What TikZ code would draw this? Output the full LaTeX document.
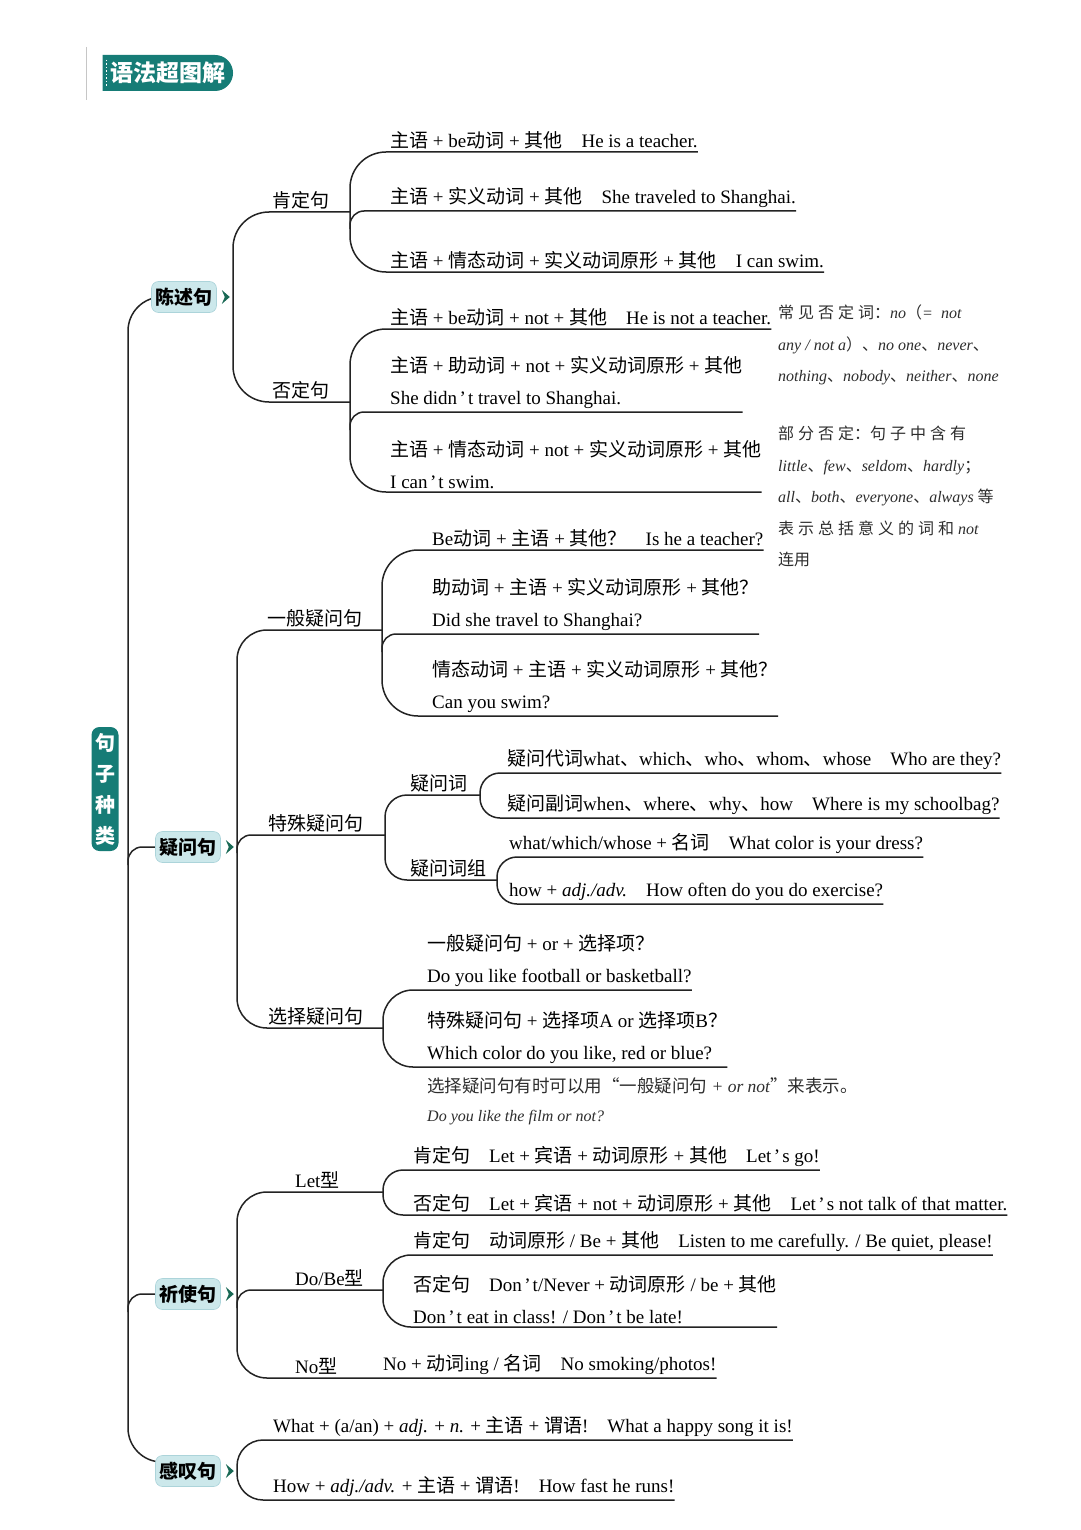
\documentclass[tikz,border=0pt]{standalone}
\usepackage{fontspec}
\setmainfont{Liberation Serif}
\newfontfamily\zhfamily{Noto Sans CJK SC}
\usepackage{xcolor}
\usepackage{tikz}
\usetikzlibrary{positioning, calc, shapes.misc, backgrounds}
% CJK characters switch to the CJK family by themselves
\XeTeXinterchartokenstate=1
\newXeTeXintercharclass\zhclass
\newcount\zhc
\zhc="4E00
\loop \XeTeXcharclass\zhc=\zhclass \advance\zhc by 1 \ifnum\zhc<"A000 \repeat
\zhc="3000
\loop \XeTeXcharclass\zhc=\zhclass \advance\zhc by 1 \ifnum\zhc<"3040 \repeat
\zhc="FF00
\loop \XeTeXcharclass\zhc=\zhclass \advance\zhc by 1 \ifnum\zhc<"FFF0 \repeat
\XeTeXcharclass"201C=\zhclass
\XeTeXcharclass"201D=\zhclass
\XeTeXinterchartoks 0 \zhclass = {\zhfamily}
\XeTeXinterchartoks 4095 \zhclass = {\zhfamily}
\XeTeXinterchartoks \zhclass 0 = {\rmfamily}
\XeTeXinterchartoks \zhclass 4095 = {\rmfamily}
\newcommand\ap{\kern2.5pt’\kern2pt}
\definecolor{tealdk}{RGB}{22,124,118}
\definecolor{catfill}{RGB}{204,232,235}
\definecolor{catline}{RGB}{172,212,218}
\definecolor{chevc}{RGB}{24,104,84}
\definecolor{inkline}{RGB}{35,35,35}
\definecolor{notegray}{RGB}{45,45,45}
\tikzset{
  tree/.style={draw=inkline, line width=1.5pt},
  leaf/.style={anchor=south west, inner xsep=0pt, inner ysep=3pt,
    align=left, font=\fontsize{19}{32}\selectfont},
  sub/.style={anchor=south west, inner xsep=0pt, inner ysep=3pt,
    font=\fontsize{19}{19}\selectfont},
  cat/.style={rectangle, rounded corners=7pt, fill=catfill, draw=catline,
    line width=0.6pt, inner xsep=4pt, minimum height=31pt,
    font=\fontsize{19}{19}\selectfont\bfseries},
  root/.style={rectangle, rounded corners=8pt, fill=tealdk, text=white,
    align=center, inner xsep=3pt, inner ysep=6pt, minimum width=27pt,
    font=\fontsize{20}{31}\selectfont\bfseries},
  title/.style={rounded rectangle, rounded rectangle left arc=none,
    fill=tealdk, text=white, minimum width=137pt, minimum height=36pt,
    font=\fontsize{23}{23}\selectfont\bfseries},
  note/.style={anchor=north west, align=left, inner sep=0pt, text=notegray,
    font=\fontsize{16}{31.5}\selectfont\itshape},
  notex/.style={anchor=west, inner sep=0pt, text=notegray,
    font=\fontsize{17.5}{17.5}\selectfont\itshape}
}
\newcommand\chev[1]{\fill[chevc] ($(#1.east)+(5,-7)$) -- ++(8,7) -- ++(-8,7) -- ++(3,-7) -- cycle;}

\begin{document}
\begin{tikzpicture}[x=1pt, y=-1pt]
  \useasboundingbox (0,0) rectangle (1080,1530);

  % title and root
  \draw[gray!45, line width=1pt] (86,47) -- (86,100);
  \node[title] (ttl) at (166,73) {\hspace{4pt}语法超图解};
  \draw[white, line width=1.3pt, dash pattern=on 1.5pt off 2pt] ($(ttl.west)+(4,-13)$) -- ($(ttl.west)+(4,13)$);
  \node[root] (gz) at (105,789) {句\\子\\种\\类};

  % main sentence types
  \node[cat] (cs) at (184,297) {陈述句};
  \node[cat] (yw) at (188,847) {疑问句};
  \node[cat] (qs) at (188,1294) {祈使句};
  \node[cat] (gt) at (188,1471) {感叹句};
  \chev{cs} \chev{yw} \chev{qs} \chev{gt}

  \coordinate (trk) at (128,0);
  \coordinate (csv) at (233,0);
  \coordinate (kdv) at (350,0);
  \coordinate (fdv) at (350,0);
  \coordinate (ywv) at (237,0);
  \coordinate (ybv) at (382,0);
  \coordinate (tsv) at (385,0);
  \coordinate (w1v) at (480,0);
  \coordinate (w2v) at (497,0);
  \coordinate (xzv) at (383,0);
  \coordinate (qsv) at (237,0);
  \coordinate (ltv) at (383,0);
  \coordinate (dbv) at (383,0);
  \coordinate (gtv) at (237,0);

  % 陈述句
  \node[sub] (kd) at (272,212) {肯定句};
  \node[sub] (fd) at (272,402) {否定句};
  \node[leaf] (k1) at (390,152) {主语 + be动词 + 其他\quad He is a teacher.};
  \node[leaf] (k2) at (390,211) {主语 + 实义动词 + 其他\quad She traveled to Shanghai.};
  \node[leaf] (k3) at (390,272) {主语 + 情态动词 + 实义动词原形 + 其他\quad I can swim.};
  \node[leaf] (f1) at (390,329) {主语 + be动词 + not + 其他\quad He is not a teacher.};
  \node[leaf] (f2) at (390,412) {主语 + 助动词 + not + 实义动词原形 + 其他\\She didn\ap t travel to Shanghai.};
  \node[leaf] (f3) at (390,492) {主语 + 情态动词 + not + 实义动词原形 + 其他\\I can\ap t swim.};
  \node[note] (nt1) at (778,305) {常 见 否 定 词：no（= \ not\\any / not a）、no one、never、\\nothing、nobody、neither、none};
  \node[note] (nt2) at (778,426) {部 分 否 定：句 子 中 含 有\\little、few、seldom、hardly；\\all、both、everyone、always 等\\表 示 总 括 意 义 的 词 和 not\\连用};

  % 疑问句
  \node[sub] (yb) at (267,630) {一般疑问句};
  \node[sub] (ts) at (268,835) {特殊疑问句};
  \node[sub] (xz) at (268,1028) {选择疑问句};
  \node[leaf] (y1) at (432,550) {Be动词 + 主语 + 其他？\quad Is he a teacher?};
  \node[leaf] (y2) at (432,634) {助动词 + 主语 + 实义动词原形 + 其他？\\Did she travel to Shanghai?};
  \node[leaf] (y3) at (432,716) {情态动词 + 主语 + 实义动词原形 + 其他？\\Can you swim?};
  \node[sub] (w1) at (410,795) {疑问词};
  \node[sub] (w2) at (410,880) {疑问词组};
  \node[leaf] (w11) at (507,773) {疑问代词what、which、who、whom、whose\quad Who are they?};
  \node[leaf] (w12) at (507,818) {疑问副词when、where、why、how\quad Where is my schoolbag?};
  \node[leaf] (w21) at (509,857) {what/which/whose + 名词\quad What color is your dress?};
  \node[leaf] (w22) at (509,904) {how + \textit{adj./adv.}\quad How often do you do exercise?};
  \node[leaf] (x1) at (427,990) {一般疑问句 + or + 选择项？\\Do you like football or basketball?};
  \node[leaf] (x2) at (427,1067) {特殊疑问句 + 选择项A or 选择项B？\\Which color do you like, red or blue?};
  \node[notex] (nt3) at (427,1086) {选择疑问句有时可以用“一般疑问句 + or not”来表示。};
  \node[notex, font=\fontsize{16}{16}\selectfont\itshape] (nt4) at (427,1118) {Do you like the film or not?};

  % 祈使句
  \node[sub] (lt) at (295,1192) {Let型};
  \node[sub] (db) at (295,1290) {Do/Be型};
  \node[sub] (nx) at (295,1378) {No型};
  \node[leaf] (l1) at (413,1170) {肯定句\quad Let + 宾语 + 动词原形 + 其他\quad Let\ap s go!};
  \node[leaf] (l2) at (413,1215) {否定句\quad Let + 宾语 + not + 动词原形 + 其他\quad Let\ap s not talk of that matter.};
  \node[leaf] (d1) at (413,1255) {肯定句\quad 动词原形 / Be + 其他\quad Listen to me carefully. / Be quiet, please!};
  \node[leaf] (d2) at (413,1327) {否定句\quad Don\ap t/Never + 动词原形 / be + 其他\\Don\ap t eat in class! / Don\ap t be late!};
  \node[leaf] (n1) at (383,1378) {No + 动词ing / 名词\quad No smoking/photos!};

  % 感叹句
  \node[leaf] (e1) at (273,1440) {What + (a/an) + \textit{adj.} + \textit{n.} + 主语 + 谓语!\quad What a happy song it is!};
  \node[leaf] (e2) at (273,1500) {How + \textit{adj./adv.} + 主语 + 谓语!\quad How fast he runs!};

  \begin{scope}[on background layer]
    \fill[white] (0,0) rectangle (1080,1530);
    % trunk
    \draw[tree, rounded corners=34pt] (cs.center) -- (cs.center -| trk) -- ($(gt.center -| trk)+(0,-9)$) -- ($(gt.center)+(0,-9)$);
    \draw[tree, rounded corners=14pt] ($(yw.center -| trk)+(0,18)$) -- (yw.center -| trk) -- (yw.center);
    \draw[tree, rounded corners=14pt] ($(qs.center -| trk)+(0,18)$) -- (qs.center -| trk) -- (qs.center);
    % 陈述句
    \draw[tree, rounded corners=36pt] (kd.south west -| kdv) -- (kd.south west -| csv) -- (fd.south west -| csv) -- (fd.south west -| fdv);
    \draw[tree, rounded corners=36pt] (k1.south east) -- (k1.south west -| kdv) -- (k3.south west -| kdv) -- (k3.south east);
    \draw[tree, rounded corners=14pt] ($(k2.south west -| kdv)+(0,18)$) -- (k2.south west -| kdv) -- (k2.south east);
    \draw[tree, rounded corners=36pt] (f1.south east) -- (f1.south west -| fdv) -- (f3.south west -| fdv) -- (f3.south east);
    \draw[tree, rounded corners=14pt] ($(f2.south west -| fdv)+(0,18)$) -- (f2.south west -| fdv) -- (f2.south east);
    % 疑问句
    \draw[tree, rounded corners=30pt] (yb.south west -| ybv) -- (yb.south west -| ywv) -- (xz.south west -| ywv) -- (xz.south west -| xzv);
    \draw[tree, rounded corners=14pt] ($(ts.south west -| ywv)+(0,18)$) -- (ts.south west -| ywv) -- (ts.south west -| tsv);
    \draw[tree, rounded corners=36pt] (y1.south east) -- (y1.south west -| ybv) -- (y3.south west -| ybv) -- (y3.south east);
    \draw[tree, rounded corners=14pt] ($(y2.south west -| ybv)+(0,18)$) -- (y2.south west -| ybv) -- (y2.south east);
    \draw[tree, rounded corners=22pt] (w1.south west -| w1v) -- (w1.south west -| tsv) -- (w2.south west -| tsv) -- (w2.south west -| w2v);
    \draw[tree, rounded corners=20pt] (w11.south east) -- (w11.south west -| w1v) -- (w12.south west -| w1v) -- (w12.south east);
    \draw[tree, rounded corners=20pt] (w21.south east) -- (w21.south west -| w2v) -- (w22.south west -| w2v) -- (w22.south east);
    \draw[tree, rounded corners=30pt] (x1.south east) -- (x1.south west -| xzv) -- (x2.south west -| xzv) -- (x2.south east);
    % 祈使句
    \draw[tree, rounded corners=30pt] (lt.south west -| ltv) -- (lt.south west -| qsv) -- (n1.south west -| qsv) -- (n1.south east);
    \draw[tree, rounded corners=14pt] ($(db.south west -| qsv)+(0,18)$) -- (db.south west -| qsv) -- (db.south west -| dbv);
    \draw[tree, rounded corners=20pt] (l1.south east) -- (l1.south west -| ltv) -- (l2.south west -| ltv) -- (l2.south east);
    \draw[tree, rounded corners=28pt] (d1.south east) -- (d1.south west -| dbv) -- (d2.south west -| dbv) -- (d2.south east);
    % 感叹句
    \draw[tree, rounded corners=26pt] (e1.south east) -- (e1.south west -| gtv) -- (e2.south west -| gtv) -- (e2.south east);
  \end{scope}
\end{tikzpicture}
\end{document}
